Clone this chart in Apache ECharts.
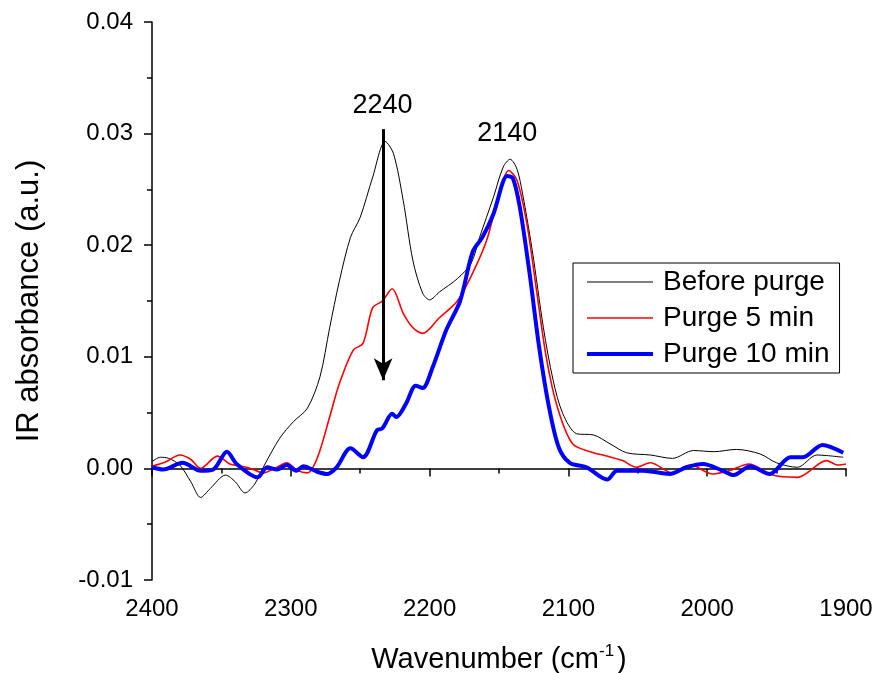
<!DOCTYPE html>
<html><head><meta charset="utf-8">
<script src="https://cdn.jsdelivr.net/npm/echarts@6/dist/echarts.min.js"></script>
<style>html,body{margin:0;padding:0;background:#fff}#c{width:875px;height:673px}</style>
</head><body><div id="c"></div>
<script>
const seriesNames = ['Before purge', 'Purge 5 min', 'Purge 10 min'];
const xTicks = [2400, 2300, 2200, 2100, 2000, 1900];
const yTicks = [-0.01, 0.00, 0.01, 0.02, 0.03, 0.04];

const wnBefore = [2400,2394,2388,2380,2372,2365,2358,2347,2340,2333,2326,2319,2308,2298,2288,2279,2272,2265,2257,2250,2241,2232,2226,2219,2212,2205,2200,2193,2180,2170,2164,2154,2147,2142,2137,2133,2126,2118,2111,2104,2094,2082,2070,2058,2041,2025,2010,1995,1979,1962,1950,1935,1921,1902];
const absBefore = [0.0006,0.0010,0.0009,0.0003,-0.0012,-0.0026,-0.0018,-0.0006,-0.0012,-0.0022,-0.0014,0.0003,0.0027,0.0042,0.0054,0.0082,0.0126,0.0168,0.0207,0.0225,0.0261,0.0293,0.0282,0.0240,0.0186,0.0157,0.0151,0.0158,0.0170,0.0184,0.0207,0.0243,0.0270,0.0277,0.0268,0.0246,0.0195,0.0126,0.0079,0.0049,0.0031,0.0030,0.0022,0.0014,0.0012,0.0009,0.0016,0.0015,0.0017,0.0013,0.0005,0.0001,0.0012,0.0010];

const wn5 = [2400,2390,2380,2372,2365,2353,2344,2336,2329,2320,2310,2303,2295,2288,2284,2279,2272,2265,2255,2248,2241,2234,2227,2219,2212,2205,2193,2180,2169,2159,2151,2143,2137,2130,2123,2116,2108,2097,2082,2075,2061,2051,2041,2025,2012,1996,1984,1970,1953,1935,1914,1906,1900];
const abs5 = [0.0002,0.0006,0.0012,0.0008,0.0000,0.0011,0.0004,0.0002,0.0000,-0.0004,0.0001,0.0005,-0.0002,-0.0004,0.0001,0.0016,0.0046,0.0076,0.0106,0.0112,0.0144,0.0150,0.0161,0.0139,0.0126,0.0121,0.0135,0.0150,0.0175,0.0204,0.0240,0.0267,0.0258,0.0220,0.0160,0.0100,0.0055,0.0022,0.0014,0.0012,0.0007,0.0001,0.0005,-0.0004,0.0003,-0.0005,-0.0002,0.0004,-0.0006,-0.0008,0.0007,0.0003,0.0004];

const wn10 = [2400,2392,2378,2365,2356,2346,2339,2324,2317,2310,2303,2296,2291,2281,2274,2267,2257,2248,2238,2234,2227,2224,2217,2210,2205,2198,2188,2178,2169,2162,2154,2144,2140,2135,2128,2121,2114,2107,2099,2087,2072,2065,2046,2027,2015,2003,1989,1981,1969,1955,1940,1931,1917,1902];
const abs10 = [0.0001,-0.0001,0.0005,-0.0002,-0.0001,0.0015,0.0004,-0.0008,0.0001,-0.0001,0.0003,-0.0002,0.0002,-0.0003,-0.0005,0.0001,0.0018,0.0010,0.0034,0.0036,0.0049,0.0046,0.0058,0.0074,0.0072,0.0090,0.0124,0.0150,0.0194,0.0207,0.0228,0.0262,0.0260,0.0234,0.0175,0.0108,0.0055,0.0019,0.0005,0.0001,-0.0010,-0.0002,-0.0002,-0.0005,0.0001,0.0004,-0.0002,-0.0006,0.0002,-0.0005,0.0010,0.0010,0.0021,0.0014];

const peakLabels = [{wn: 2234, a: 0.0325, text: '2240'}, {wn: 2144, a: 0.0300, text: '2140'}];
const arrowWn = 2233.5, arrowFrom = 0.0304, arrowTo = 0.0079;

const zip = (xs, ys) => xs.map((x, i) => [x, ys[i]]);
const font = 'Liberation Sans, Arial, sans-serif';
const colors = ['#000000', '#ff0000', '#0000ff'];
const widths = [1, 1.6, 4];

const chart = echarts.init(document.getElementById('c'), null, {renderer: 'canvas'});
chart.setOption({
  animation: false,
  backgroundColor: '#fff',
  grid: {left: 152, right: 29, top: 22, bottom: 93, containLabel: false, outerBoundsMode: 'none'},
  legend: {
    orient: 'vertical', left: 573, top: 263,
    padding: [5, 10, 5, 12],
    itemWidth: 66, itemHeight: 14, itemGap: 8,
    borderColor: '#000', borderWidth: 1,
    itemStyle: {opacity: 0},
    textStyle: {fontFamily: font, fontSize: 28, color: '#000', padding: [0, 0, 0, 5]},
    data: seriesNames.map((n, i) => ({name: n, lineStyle: {color: colors[i], width: widths[i]}}))
  },
  xAxis: {
    type: 'value', inverse: true, min: 1900, max: 2400, interval: 100,
    name: 'Wavenumber (cm{s|-1})', nameLocation: 'middle', nameGap: 63,
    nameTextStyle: {fontFamily: font, fontSize: 29, color: '#000',
      rich: {s: {fontFamily: font, fontSize: 17, color: '#000', padding: [0, 3, 16, 0]}}},
    axisLine: {lineStyle: {color: '#000', width: 1.5}},
    axisTick: {length: 8, lineStyle: {color: '#000', width: 1.5}},
    minorTick: {show: true, splitNumber: 2, length: 5, lineStyle: {color: '#000', width: 1.5}},
    axisLabel: {fontFamily: font, fontSize: 24, color: '#000', margin: 17, formatter: v => String(v)},
    splitLine: {show: false}
  },
  yAxis: {
    type: 'value', min: -0.01, max: 0.04, interval: 0.01,
    name: 'IR absorbance (a.u.)', nameLocation: 'middle', nameGap: 107,
    nameTextStyle: {fontFamily: font, fontSize: 31, color: '#000'},
    axisLine: {show: true, lineStyle: {color: '#000', width: 1.5}},
    axisTick: {show: true, length: 8, lineStyle: {color: '#000', width: 1.5}},
    minorTick: {show: true, splitNumber: 2, length: 5, lineStyle: {color: '#000', width: 1.5}},
    axisLabel: {fontFamily: font, fontSize: 24, color: '#000', margin: 19,
      formatter: v => v.toFixed(2)},
    splitLine: {show: false}
  },
  series: [
    {name: seriesNames[0], type: 'line', data: zip(wnBefore, absBefore), smooth: 0.3, symbol: 'none',
      lineStyle: {color: colors[0], width: widths[0]}, itemStyle: {color: colors[0]}, z: 3,
      markLine: {silent: true, symbol: ['none', 'arrow'], symbolSize: [14, 22],
        lineStyle: {color: '#000', width: 3, type: 'solid'}, label: {show: false},
        data: [[{coord: [arrowWn, arrowFrom]}, {coord: [arrowWn, arrowTo]}]]},
      markPoint: {symbol: 'circle', symbolSize: 0, silent: true,
        label: {show: true, fontFamily: font, fontSize: 27, color: '#000', formatter: p => p.name},
        data: peakLabels.map(p => ({name: p.text, coord: [p.wn, p.a]}))}
    },
    {name: seriesNames[1], type: 'line', data: zip(wn5, abs5), smooth: 0.3, symbol: 'none',
      lineStyle: {color: colors[1], width: widths[1]}, itemStyle: {color: colors[1]}, z: 4},
    {name: seriesNames[2], type: 'line', data: zip(wn10, abs10), smooth: 0.3, symbol: 'none',
      lineStyle: {color: colors[2], width: widths[2]}, itemStyle: {color: colors[2]}, z: 5}
  ]
});
</script></body></html>
